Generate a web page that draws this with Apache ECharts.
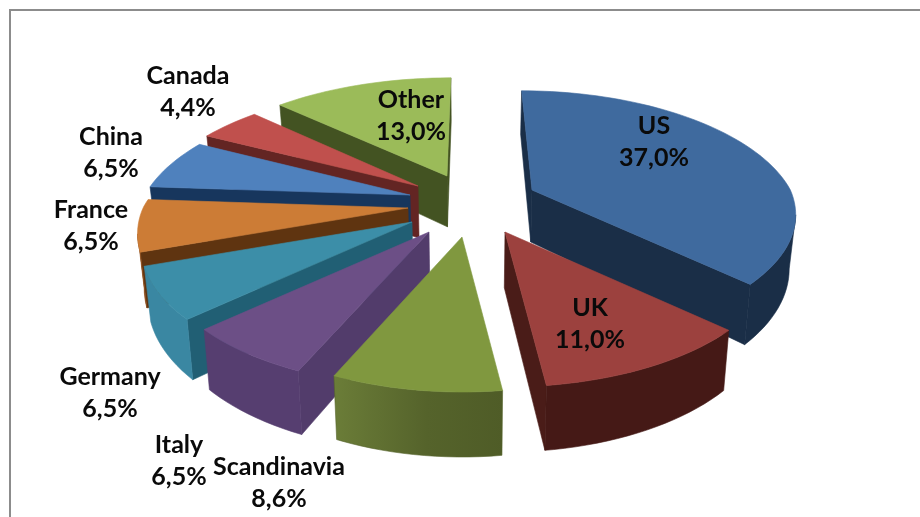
<!DOCTYPE html>
<html>
<head>
<meta charset="utf-8">
<style>html,body{margin:0;padding:0;background:#fff}#c{width:920px;height:517px}</style>
<script src="https://cdn.jsdelivr.net/npm/echarts@6/dist/echarts.min.js"></script>
</head>
<body>
<div id="c"></div>
<script>
// ---- data ----
const categories = ['US','UK','Scandinavia','Italy','Germany','France','China','Canada','Other'];
const shares = [37.0,11.0,8.6,6.5,6.5,6.5,6.5,4.4,13.0];

// ---- colours ----
const topColors   = ['#3F6A9E','#9C413E','#80983F','#6C4F86','#3C8EA8','#CC7C36','#4F81BD','#C0504D','#9BBB59'];
const cutColors   = ['#1A2E47','#4A1C18','#46561F','#523C6B','#215F74','#5F3410','#17365D','#632523','#435322'];
const rimColors   = ['#1A2E47','#451916','#55632B','#563E70','#3A87A2','#8B4A17','#17365D','#632523','#435322'];
const rimLightEdge = {2:'#6B7D38'};

// ---- layout ----
const paintOrder  = [8,7,6,5,0,4,3,2,1];           // back to front, index into categories
const explodePx   = [[62,0],[35,42],[-8,47],[-41,42],[-58,32],[-62,18],[-60,5],[-52,-4],[-23,-14]];
const radiusScale = [[0.975,0.96],[1,1],[0.98,1],[1,1],[1,1],[1,1],[1,0.97],[1,0.96],[1,0.95]];
const labelCentre = [[654,141.5],[590,323.5],[279,482.5],[179,460.5],[110,392.5],[91,225.5],[111,152.5],[188,91.5],[411,115.5]];
const view = {cx:470, cy:190, R:265, Ry:124, k:0.2, depth:52, baseLean:0.98};

function project(slice, tDeg, onRim) {
  const [ox, oy] = explodePx[slice];
  const [sx, sy] = radiusScale[slice];
  const t = tDeg * Math.PI / 180;
  const X = onRim ? Math.sin(t) : 0;
  const Y = onRim ? -Math.cos(t) : 0;
  const w = 1 - view.k * Y;
  return {
    x: view.cx + ox / Math.max(w, 1) + sx * view.R * X / w,
    y: view.cy + oy + sy * view.Ry * Y / w,
    d: view.depth / (onRim ? w : 1 - view.k * oy / view.Ry)
  };
}
const topPt = p => [p.x, p.y];
const basePt = p => [view.cx + (p.x - view.cx) * view.baseLean, p.y + p.d];
function area(pts) {
  let a = 0;
  pts.forEach((p, i) => { const q = pts[(i + 1) % pts.length]; a += p[0] * q[1] - q[0] * p[1]; });
  return a / 2;
}
function poly(points, fill, z2, stroke) {
  return {type:'polygon', shape:{points}, z2, style:{fill, stroke:stroke || fill, lineWidth:0.6, lineJoin:'round'}};
}
function arcAngles(a, b) {
  const out = [];
  for (let t = a; t < b; t += 2) out.push(t);
  out.push(b);
  return out;
}

const cumStart = [];
shares.reduce((s, v, i) => { cumStart[i] = s; return s + v; }, 0);
const total = shares.reduce((a, b) => a + b, 0);

function renderItem(params) {
  const i = params.dataIndex;
  const z = paintOrder.indexOf(i) * 10;
  const t0 = cumStart[i] / total * 360;
  const t1 = (cumStart[i] + shares[i]) / total * 360;
  const apex = project(i, 0, false);
  const children = [];
  // straight cut walls, culled when facing away
  [[t0, 1],[t1, -1]].forEach(([t, sign]) => {
    const r = project(i, t, true);
    const q = [topPt(apex), topPt(r), basePt(r), basePt(apex)];
    if (area(q) * sign < 0) children.push(poly(q, cutColors[i], z + 1));
  });
  // curved outer wall: only the arc that faces the viewer
  const cosEdge = Math.acos(-view.k) * 180 / Math.PI;
  const a = Math.max(t0, cosEdge), b = Math.min(t1, 360 - cosEdge);
  if (b > a) {
    const arc = arcAngles(a, b).map(t => project(i, t, true));
    const fill = rimLightEdge[i]
      ? new echarts.graphic.LinearGradient(0, 0, 1, 0, [
          {offset:0, color:rimLightEdge[i]}, {offset:0.55, color:rimColors[i]}, {offset:1, color:'#4F5C27'}])
      : rimColors[i];
    children.push(poly(arc.map(topPt).concat(arc.slice().reverse().map(basePt)), fill, z + 2, rimColors[i]));
  }
  // top face
  const rim = arcAngles(t0, t1).map(t => topPt(project(i, t, true)));
  children.push(poly([topPt(apex)].concat(rim), topColors[i], z + 3));
  // label
  children.push({
    type:'text', z2:1000,
    style:{
      x:labelCentre[i][0], y:labelCentre[i][1],
      text:categories[i] + '\n' + shares[i].toFixed(1).replace('.', ',') + '%',
      fill:'#0a0a0a', align:'center', verticalAlign:'middle',
      font:'bold 25px Lato', lineHeight:32
    }
  });
  return {type:'group', children};
}

const chart = echarts.init(document.getElementById('c'), null, {renderer:'canvas'});
chart.setOption({
  animation:false,
  backgroundColor:'#ffffff',
  graphic:[{
    type:'polyline', silent:true,
    shape:{points:[[10,517],[10,10],[920,10]]},
    style:{stroke:'#8c8c8c', lineWidth:2, fill:null}
  }],
  series:[{
    type:'custom', coordinateSystem:'none', renderItem,
    data:categories.map((name, i) => ({name, value:shares[i]}))
  }]
});
</script>
</body>
</html>
